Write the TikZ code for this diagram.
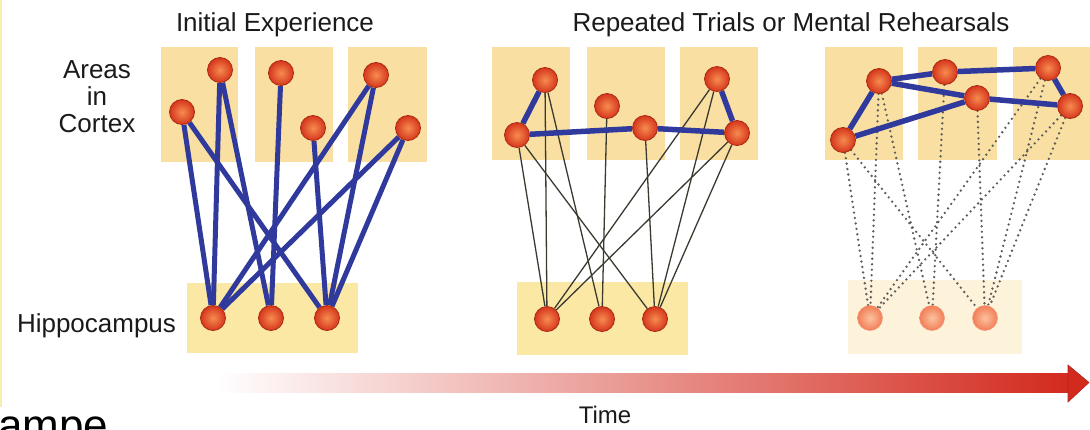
\documentclass[tikz,border=0pt]{standalone}
\usepackage{fontspec}
\setmainfont{Liberation Sans}
\usepackage{xcolor}
\definecolor{areafill}{HTML}{F9DFA2}
\definecolor{hippofill}{HTML}{FAE8A4}
\definecolor{fadefill}{HTML}{FDF2DA}
\definecolor{cellhi}{HTML}{F68C50}
\definecolor{cellrim}{HTML}{D6361C}
\definecolor{celledge}{HTML}{A82A12}
\definecolor{fadehi}{HTML}{FBC29E}
\definecolor{fadelo}{HTML}{F27E58}
\definecolor{linkblue}{HTML}{2F3A9C}
\definecolor{linkgrey}{HTML}{3A3A30}
\definecolor{dotgrey}{HTML}{5C5C5C}
\definecolor{timemid}{HTML}{EF7E5E}
\definecolor{timered}{HTML}{D32A1E}
\definecolor{inkgrey}{HTML}{1A1A1A}
\definecolor{edgeyellow}{HTML}{F7EEB0}
\pgfdeclarelayer{boxes}
\pgfdeclarelayer{wires}
\pgfsetlayers{boxes,wires,main}

\begin{document}
\begin{tikzpicture}[x=1pt, y=-1pt,
  cell/.style={circle, minimum size=25pt, inner sep=0pt, shading=radial,
    inner color=cellhi, outer color=cellrim, draw=celledge, line width=0.8pt},
  faded/.style={circle, minimum size=25pt, inner sep=0pt, shading=radial,
    inner color=fadehi, outer color=fadelo, draw=fadelo!80, line width=0.5pt},
  strong/.style={draw=linkblue, line width=5pt},
  weak/.style={draw=linkgrey, line width=1.3pt},
  trace/.style={draw=dotgrey, line width=2.6pt, line cap=round, dash pattern=on 0pt off 5.5pt},
  lbl/.style={font=\fontsize{26}{27}\selectfont, text=inkgrey, inner sep=0pt}]
  \useasboundingbox (0,0) rectangle (1090,429);
  \draw[line width=1.5pt, edgeyellow] (0.75,0) -- (0.75,407);

  % titles and row labels
  \node[lbl, anchor=base] (title1) at (275,31.5) {Initial Experience};
  \node[lbl, anchor=base] (title2) at (791,31) {Repeated Trials or Mental Rehearsals};
  \node[lbl, align=center] (cortexlbl) at (97,96.5) {Areas\\in\\Cortex};
  \node[lbl, anchor=base] (hippolbl) at (96.5,332) {Hippocampus};

  % initial experience
  \node[cell] (i1) at (182,112) {};
  \node[cell] (i2) at (220,70) {};
  \node[cell] (i3) at (281,73) {};
  \node[cell] (i4) at (313,128) {};
  \node[cell] (i5) at (376,75) {};
  \node[cell] (i6) at (408,128) {};
  \node[cell] (ih1) at (213,318) {};
  \node[cell] (ih2) at (271,318) {};
  \node[cell] (ih3) at (327,318) {};

  % repeated trials
  \node[cell] (r1) at (517,135) {};
  \node[cell] (r2) at (545,80) {};
  \node[cell] (r3) at (607,106) {};
  \node[cell] (r4) at (645,128) {};
  \node[cell] (r5) at (717,79) {};
  \node[cell] (r6) at (737,133) {};
  \node[cell] (rh1) at (547,319) {};
  \node[cell] (rh2) at (602,319) {};
  \node[cell] (rh3) at (655,319) {};

  % later: cortex only, hippocampus fading
  \node[cell] (m1) at (843,140) {};
  \node[cell] (m2) at (879,81) {};
  \node[cell] (m3) at (945,72) {};
  \node[cell] (m4) at (977,98) {};
  \node[cell] (m5) at (1048,68) {};
  \node[cell] (m6) at (1070,106) {};
  \node[faded] (mh1) at (870,318) {};
  \node[faded] (mh2) at (932,318) {};
  \node[faded] (mh3) at (985,318) {};

  \begin{pgfonlayer}{boxes}
    \foreach \xa/\xb in {161/238, 255/333, 348/427}
      \fill[areafill] (\xa,47) rectangle (\xb,162);
    \foreach \xa/\xb in {492/570, 587/665, 680/758, 825/903, 918/997, 1013/1090}
      \fill[areafill] (\xa,47) rectangle (\xb,160);
    \fill[hippofill] (187,283) rectangle (358,353);
    \fill[hippofill] (517,282) rectangle (688,355);
    \fill[fadefill] (848,280) rectangle (1022,354);
  \end{pgfonlayer}

  \begin{pgfonlayer}{wires}
    \foreach \c/\h in {1/1, 1/3, 2/1, 2/2, 3/2, 4/3, 5/1, 5/3, 6/1, 6/3} {
      \draw[strong] (i\c) -- (ih\h);
      \draw[weak] (r\c) -- (rh\h);
      \draw[trace] (m\c) -- (mh\h);
    }
    \foreach \a/\b in {1/2, 1/4, 4/6, 5/6}
      \draw[strong, line width=5.5pt] (r\a) -- (r\b);
    \foreach \a/\b in {1/2, 2/3, 3/5, 5/6, 6/4, 4/2, 4/1}
      \draw[strong, line width=5.5pt] (m\a) -- (m\b);
  \end{pgfonlayer}

  % time arrow
  \fill[left color=white, middle color=timemid, right color=timered] (217,373) rectangle (1068,392);
  \fill[timered, draw=timered!85!black, line width=0.6pt] (1068,365) -- (1089,382.5) -- (1068,402) -- cycle;
  \node[font=\fontsize{24}{24}\selectfont, text=inkgrey, anchor=base, inner sep=0pt] (timelbl) at (605,423) {Time};

  % cut-off slide text
  \begin{scope}
    \clip (0,0) rectangle (1090,429);
    \node[font=\fontsize{44}{44}\selectfont, anchor=base west, inner sep=0pt] (cut) at (-2,440) {ampe};
  \end{scope}
\end{tikzpicture}
\end{document}
